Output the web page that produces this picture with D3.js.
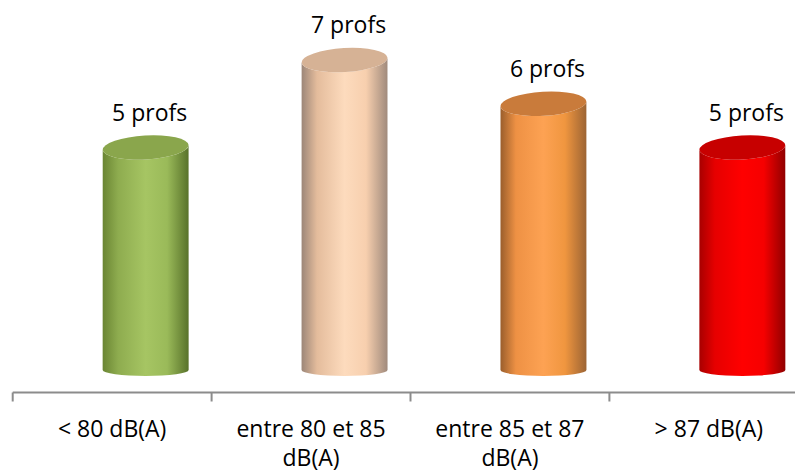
<!DOCTYPE html>
<html>
<head>
<meta charset="utf-8">
<script src="https://cdn.jsdelivr.net/npm/d3@7"></script>
<style>
  html, body { margin: 0; padding: 0; background: #ffffff; }
  svg { display: block; }
  text { font-family: "Open Sans", "Noto Sans", sans-serif; fill: #000; }
</style>
</head>
<body>
<svg id="chart" width="795" height="472"></svg>
<script>
// ---- data ----
const categories = ["< 80 dB(A)", "entre 80 et 85 dB(A)", "entre 85 et 87 dB(A)", "> 87 dB(A)"];
const values = [5, 7, 6, 5];
const valueLabels = ["5 profs", "7 profs", "6 profs", "5 profs"];
const yDomain = [0, 8];

// ---- colours (body gradient stops, top fill) ----
const bodyStops = [
  ["#6a8533", "#8eac4f", "#a6c563", "#9aba59", "#58722a"],
  ["#9c8678", "#e4bc9c", "#fddbbd", "#f7cfae", "#a08a7c"],
  ["#9a5e2c", "#ee9144", "#fda253", "#f0963f", "#9c6434"],
  ["#a80000", "#e60000", "#ff0000", "#f60000", "#900000"]
];
const topFill = ["#8aa64c", "#d6b295", "#c97b3b", "#c70000"];

const svg = d3.select("#chart");
const W = 795, H = 472;

const x = d3.scaleBand().domain(categories).range([12.7, 808.3]).padding(0);
const y = d3.scaleLinear().domain(yDomain).range([366, 16.4]);

const defs = svg.append("defs");
bodyStops.forEach((stops, i) => {
  const g = defs.append("linearGradient").attr("id", "g" + i)
    .attr("x1", "0%").attr("x2", "100%").attr("y1", "0%").attr("y2", "0%");
  const offs = [0, 0.18, 0.5, 0.75, 1];
  stops.forEach((c, j) => g.append("stop").attr("offset", offs[j]).attr("stop-color", c));
});

// ---- axis ----
const axisY = 392.5;
svg.append("line")
  .attr("x1", x.range()[0]).attr("x2", W)
  .attr("y1", axisY).attr("y2", axisY)
  .attr("stroke", "#8c8c8c").attr("stroke-width", 2);
const tickXs = categories.map(c => x(c)).concat([x.range()[1]]);
svg.selectAll(".tick").data(tickXs).enter().append("line")
  .attr("x1", d => d).attr("x2", d => d)
  .attr("y1", axisY).attr("y2", axisY + 9)
  .attr("stroke", "#8c8c8c").attr("stroke-width", 2);

// ---- cylinders ----
const offsetX = 33.5, rx = 43, ryTop = 12, ryBot = 6, tilt = 3.3;
const th = tilt * Math.PI / 180;

categories.forEach((c, i) => {
  const cx = x(c) + x.bandwidth() / 2 + offsetX;
  const yT = y(values[i]);
  const yB = y(0) + 4;
  const dx = rx * Math.cos(th), dy = rx * Math.sin(th);
  const body = `M${cx - dx},${yT + dy} L${cx - rx},${yB} A${rx},${ryBot} 0 0 0 ${cx + rx},${yB} L${cx + dx},${yT - dy} A${rx},${ryTop} ${-tilt} 0 1 ${cx - dx},${yT + dy} Z`;
  svg.append("path").attr("d", body).attr("fill", `url(#g${i})`);
  svg.append("ellipse")
    .attr("cx", cx).attr("cy", yT).attr("rx", rx).attr("ry", ryTop)
    .attr("transform", `rotate(${-tilt},${cx},${yT})`)
    .attr("fill", topFill[i]);
  svg.append("text")
    .attr("x", cx + 4).attr("y", yT - 27)
    .attr("text-anchor", "middle")
    .attr("font-size", 23)
    .text(valueLabels[i]);
});

// ---- category labels with wrapping ----
const maxW = 178;
categories.forEach(c => {
  const cx = x(c) + x.bandwidth() / 2;
  const t = svg.append("text").attr("text-anchor", "middle").attr("font-size", 23);
  const words = c.split(" ");
  let lines = [], cur = [];
  const probe = svg.append("text").attr("font-size", 23);
  words.forEach(w => {
    const test = cur.concat([w]).join(" ");
    probe.text(test);
    if (probe.node().getComputedTextLength() > maxW && cur.length) {
      lines.push(cur.join(" "));
      cur = [w];
    } else cur.push(w);
  });
  lines.push(cur.join(" "));
  probe.remove();
  lines.forEach((l, k) => {
    t.append("tspan").attr("x", cx).attr("y", 437 + k * 29).text(l);
  });
});
</script>
</body>
</html>
